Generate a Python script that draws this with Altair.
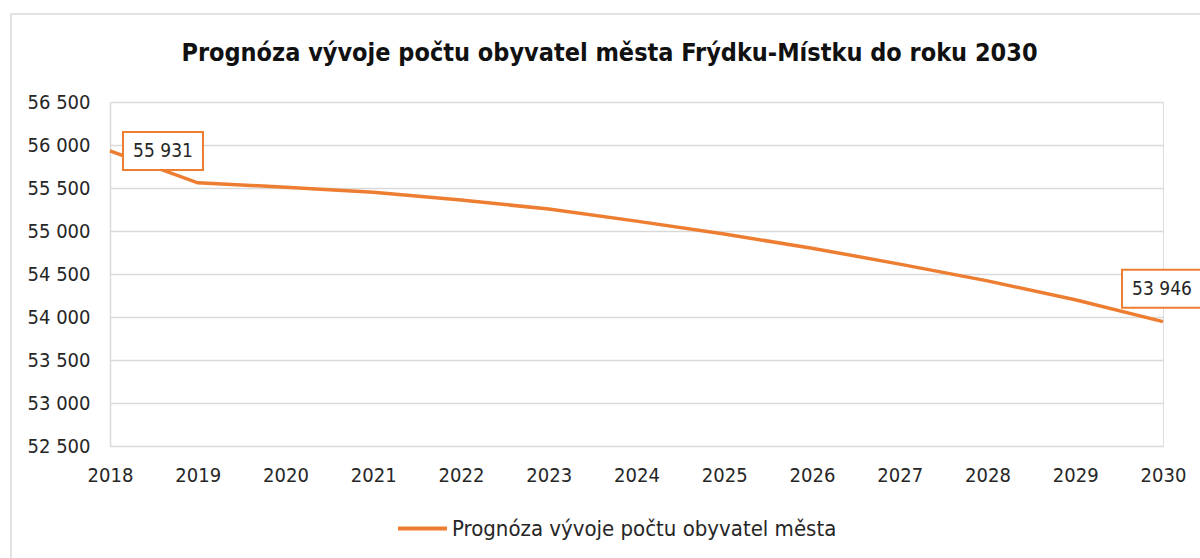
import altair as alt
import pandas as pd

years = list(range(2018, 2031))
population = [55931, 55560, 55510, 55450, 55360, 55255, 55115, 54965, 54800, 54615, 54420, 54200, 53946]
series_name = "Prognóza vývoje počtu obyvatel města"
title_text = "Prognóza vývoje počtu obyvatel města Frýdku-Místku do roku 2030"
y_ticks = list(range(52500, 57000, 500))

df = pd.DataFrame({"rok": years, "obyvatel": population, "serie": series_name})
df["popisek"] = [f"{v:,}".replace(",", " ") for v in population]

FONT = "DejaVu Sans Condensed"
ORANGE = "#ED7D31"
GRID = "#d9d9d9"
TXT = "#262626"

x = alt.X(
    "rok:Q",
    scale=alt.Scale(domain=[2018, 2030], nice=False, zero=False),
    axis=alt.Axis(values=years, format="d", title=None, grid=False, ticks=False,
                  domain=False, labelFontSize=20, labelPadding=19, labelColor=TXT,
                  labelFont=FONT, labelFlush=False),
)
y = alt.Y(
    "obyvatel:Q",
    scale=alt.Scale(domain=[52500, 56500], nice=False, zero=False),
    axis=alt.Axis(values=y_ticks, labelExpr="replace(format(datum.value, ','), ',', ' ')",
                  title=None, grid=True, gridColor=GRID, gridWidth=1.5, ticks=False,
                  domain=True, domainColor=GRID, domainWidth=1.5, labelFontSize=20,
                  labelPadding=20, labelColor=TXT, labelFont=FONT),
)

base = alt.Chart(df)

frame = alt.Chart(df.head(1)).mark_rect(fill=None, stroke=GRID, strokeWidth=1.5).encode(
    x=alt.value(-99), x2=alt.value(1100), y=alt.value(-88), y2=alt.value(470)
)

line = base.mark_line(strokeWidth=3.5).encode(
    x=x, y=y,
    color=alt.Color("serie:N", scale=alt.Scale(range=[ORANGE]),
                    legend=alt.Legend(title=None, orient="none", legendX=286, legendY=400,
                                      symbolType="stroke", symbolStrokeWidth=4,
                                      symbolSize=2400, labelFontSize=22, labelFont=FONT,
                                      labelColor=TXT, labelOffset=3, labelLimit=0)),
)

first = df[df.rok == 2018]
last = df[df.rok == 2030]

box1 = alt.Chart(first).mark_rect(width=80, height=38, fill="white", stroke=ORANGE,
                                  strokeWidth=2, xOffset=53, yOffset=0).encode(x=x, y=y)
txt1 = alt.Chart(first).mark_text(font=FONT, fontSize=19, color=TXT, dx=53, dy=0).encode(
    x=x, y=y, text="popisek:N")
box2 = alt.Chart(last).mark_rect(width=80, height=38, fill="white", stroke=ORANGE,
                                 strokeWidth=2, xOffset=-1, yOffset=-33).encode(x=x, y=y)
txt2 = alt.Chart(last).mark_text(font=FONT, fontSize=19, color=TXT, dx=-1, dy=-33).encode(
    x=x, y=y, text="popisek:N")

chart = alt.layer(frame, line, box1, txt1, box2, txt2).properties(
    width=1053, height=344,
    autosize=alt.AutoSizeParams(type="none"),
    padding={"left": 110, "top": 102, "right": 37, "bottom": 112},
    title=alt.TitleParams(title_text, font=FONT, fontSize=25, fontWeight="bold",
                          color="#111111", anchor="middle", dx=-27, offset=-53),
).configure_view(stroke=None).configure(background="white")

chart.save("out.html", embed_options={"renderer": "svg", "actions": False})
